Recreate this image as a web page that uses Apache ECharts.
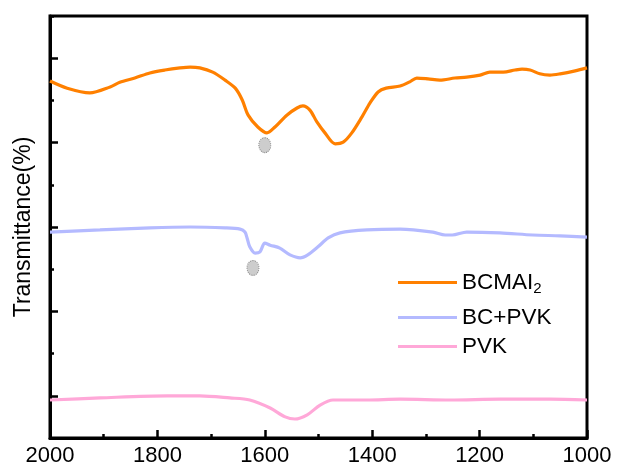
<!DOCTYPE html>
<html>
<head>
<meta charset="utf-8">
<script src="https://cdn.jsdelivr.net/npm/echarts@6/dist/echarts.min.js"></script>
<style>
  html, body { margin: 0; padding: 0; background: #fff; }
  #chart { width: 617px; height: 470px; }
</style>
</head>
<body>
<div id="chart"></div>
<script>
// FTIR spectra, wavenumber (cm-1) vs offset transmittance (arbitrary units)
const bcmaiWn = [2000, 1968, 1926, 1888, 1870, 1842, 1814, 1786, 1758, 1739, 1721, 1697, 1674, 1655, 1642, 1631, 1613, 1596, 1581, 1559, 1540, 1529, 1516, 1503, 1488, 1469, 1454, 1438, 1419, 1404, 1389, 1374, 1348, 1330, 1317, 1296, 1274, 1246, 1224, 1199, 1181, 1156, 1134, 1121, 1106, 1088, 1069, 1050, 1022, 1000];
const bcmaiT  = [8.46, 8.29, 8.18, 8.32, 8.43, 8.53, 8.65, 8.72, 8.77, 8.79, 8.77, 8.67, 8.48, 8.29, 8.01, 7.65, 7.37, 7.23, 7.37, 7.65, 7.82, 7.87, 7.77, 7.49, 7.23, 6.97, 7.01, 7.23, 7.61, 7.94, 8.20, 8.29, 8.34, 8.44, 8.53, 8.51, 8.48, 8.53, 8.55, 8.60, 8.67, 8.67, 8.72, 8.74, 8.72, 8.63, 8.60, 8.63, 8.70, 8.77];

const bcpvkWn = [2000, 1907, 1814, 1739, 1674, 1646, 1637, 1633, 1628, 1618, 1609, 1600, 1590, 1572, 1553, 1534, 1520, 1501, 1482, 1460, 1410, 1348, 1287, 1264, 1251, 1224, 1162, 1101, 1050, 1000];
const bcpvkT  = [4.88, 4.93, 4.98, 5.00, 4.98, 4.95, 4.88, 4.74, 4.53, 4.38, 4.41, 4.62, 4.57, 4.50, 4.34, 4.27, 4.34, 4.53, 4.74, 4.86, 4.93, 4.95, 4.88, 4.81, 4.81, 4.88, 4.86, 4.81, 4.79, 4.76];

const pvkWn = [2000, 1907, 1782, 1721, 1665, 1628, 1590, 1562, 1544, 1521, 1497, 1473, 1447, 1410, 1348, 1255, 1162, 1069, 1000];
const pvkT  = [0.90, 0.95, 1.00, 1.00, 0.95, 0.90, 0.71, 0.50, 0.45, 0.55, 0.78, 0.90, 0.90, 0.90, 0.92, 0.90, 0.92, 0.92, 0.90];

// peak markers
const markerWn = [1600, 1622];
const markerT  = [6.94, 4.03];

const xTicks = [2000, 1800, 1600, 1400, 1200, 1000];
const seriesNames = ['BCMAI2', 'BC+PVK', 'PVK'];
const seriesColors = ['#ff8000', '#b4baff', '#ffa8d8'];

const zip = (a, b) => a.map((v, i) => [v, b[i]]);

const font = 'Liberation Sans, Arial, sans-serif';

const chart = echarts.init(document.getElementById('chart'), null, { renderer: 'canvas' });

function legendAt(name, top) {
  return {
    data: [name],
    left: 398,
    top: top,
    padding: 0,
    icon: 'rect',
    itemWidth: 59,
    itemHeight: 3,
    itemGap: 0,
    selectedMode: false,
    formatter: n => n === 'BCMAI2' ? 'BCMAI{sub|2}' : n,
    textStyle: {
      fontFamily: font,
      fontSize: 22.5,
      color: '#000',
      rich: {
        sub: { fontFamily: font, fontSize: 15, color: '#000', padding: [12, 0, 0, 0] }
      }
    }
  };
}

chart.setOption({
  animation: false,
  backgroundColor: '#fff',
  grid: {
    left: 50, right: 30, top: 16, bottom: 32,
    show: true, borderColor: '#000', borderWidth: 3
  },
  legend: [
    legendAt(seriesNames[0], 271),
    legendAt(seriesNames[1], 306),
    legendAt(seriesNames[2], 335)
  ],
  xAxis: {
    type: 'value',
    min: 1000, max: 2000, interval: 200,
    inverse: true,
    axisLine: { show: true, lineStyle: { color: '#000', width: 3 } },
    axisTick: { show: true, inside: true, length: 8, lineStyle: { color: '#000', width: 2.5 } },
    minorTick: { show: true, splitNumber: 2, length: 4, lineStyle: { color: '#000', width: 2.5 } },
    splitLine: { show: false },
    axisLabel: {
      fontFamily: font, fontSize: 22, color: '#000', margin: 7,
      customValues: xTicks,
      formatter: v => String(v)
    }
  },
  yAxis: [
    {
      type: 'value',
      min: 0, max: 10, interval: 1,
      name: 'Transmittance(%)',
      nameLocation: 'middle',
      nameGap: 15,
      nameTextStyle: { fontFamily: font, fontSize: 23, color: '#000' },
      axisLine: { show: true, lineStyle: { color: '#000', width: 3 } },
      axisTick: { show: true, inside: true, length: 4, lineStyle: { color: '#000', width: 2.5 } },
      splitLine: { show: false },
      axisLabel: { show: false }
    },
    {
      type: 'value',
      min: 0, max: 10, interval: 1,
      position: 'left',
      axisLine: { show: false },
      axisTick: { show: true, inside: true, length: 8, customValues: [1, 3, 5, 7, 9], lineStyle: { color: '#000', width: 2.5 } },
      splitLine: { show: false },
      axisLabel: { show: false }
    }
  ],
  series: [
    {
      name: seriesNames[0], type: 'line', data: zip(bcmaiWn, bcmaiT),
      showSymbol: false, symbol: 'none', smooth: 0.3,
      lineStyle: { color: seriesColors[0], width: 3.2 }, itemStyle: { color: seriesColors[0] }
    },
    {
      name: seriesNames[1], type: 'line', data: zip(bcpvkWn, bcpvkT),
      showSymbol: false, symbol: 'none', smooth: 0.3,
      lineStyle: { color: seriesColors[1], width: 3.2 }, itemStyle: { color: seriesColors[1] }
    },
    {
      name: seriesNames[2], type: 'line', data: zip(pvkWn, pvkT),
      showSymbol: false, symbol: 'none', smooth: 0.3,
      lineStyle: { color: seriesColors[2], width: 3.2 }, itemStyle: { color: seriesColors[2] }
    },
    {
      name: 'peaks', type: 'scatter', data: zip(markerWn, markerT),
      symbol: 'circle', symbolSize: [12, 15],
      itemStyle: { color: '#c0c0c0', borderColor: '#707070', borderWidth: 1, borderType: 'dotted' },
      silent: true
    }
  ]
});
</script>
</body>
</html>
